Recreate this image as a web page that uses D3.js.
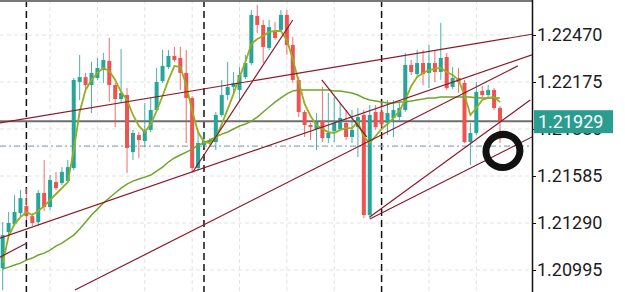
<!DOCTYPE html>
<meta charset="utf-8">
<head>
<style>
body { margin:0; background:#fff; overflow:hidden; }
text { font-family: Roboto, "Noto Sans", sans-serif; }
</style>
</head>
<script src="https://cdn.jsdelivr.net/npm/d3@7"></script>
<body>
<script>

// candles, left to right
var opens = [
1.21007,1.21233,1.21283,1.21352,1.21396,1.21333,1.21296,1.21478,1.21390,1.21547,
1.21541,1.21553,1.21635,1.22175,1.22206,1.22156,1.22200,1.22250,1.22307,1.22156,
1.22068,1.22093,1.21735,1.21842,1.21805,1.21874,1.21999,1.22181,1.22269,1.22338,
1.22326,1.22232,1.22075,1.21635,1.21779,1.21798,1.21798,1.21968,1.22093,1.22144,
1.22125,1.22206,1.22294,1.22590,1.22533,1.22389,1.22489,1.22502,1.22596,1.22407,
1.22188,1.21987,1.21905,1.21880,1.21930,1.21823,1.21867,1.21880,1.21918,1.21830,
1.21892,1.21968,1.21340,1.21987,1.21987,1.21918,1.21949,1.21955,1.21999,1.22282,
1.22225,1.22294,1.22232,1.22294,1.22238,1.22332,1.22144,1.22200,1.22169,1.21798,
1.21855,1.22119,1.22093,1.22125,1.22012];
var highs = [
1.21296,1.21359,1.21465,1.21497,1.21509,1.21352,1.21497,1.21685,1.21591,1.21610,
1.21641,1.21685,1.22200,1.22345,1.22232,1.22301,1.22326,1.22357,1.22451,1.22169,
1.22382,1.22137,1.21874,1.21861,1.22043,1.22075,1.22263,1.22376,1.22376,1.22395,
1.22395,1.22376,1.22087,1.21874,1.21861,1.21823,1.21987,1.22188,1.22301,1.22238,
1.22269,1.22345,1.22627,1.22659,1.22564,1.22564,1.22552,1.22627,1.22627,1.22458,
1.22206,1.21999,1.21918,1.21980,1.22144,1.22106,1.22081,1.22043,1.21999,1.21999,
1.22012,1.21999,1.22031,1.22031,1.22050,1.22062,1.22062,1.22050,1.22357,1.22313,
1.22376,1.22376,1.22407,1.22376,1.22546,1.22357,1.22269,1.22263,1.22188,1.21918,
1.22175,1.22150,1.22156,1.22137,1.22024];
var lows = [
1.20869,1.21208,1.21271,1.21333,1.21308,1.21271,1.21271,1.21364,1.21371,1.21497,
1.21528,1.21541,1.21622,1.22062,1.22125,1.21980,1.22188,1.22169,1.22050,1.21892,
1.22043,1.21604,1.21685,1.21698,1.21767,1.21861,1.21987,1.22169,1.22257,1.22301,
1.22125,1.21792,1.21604,1.21622,1.21761,1.21773,1.21748,1.21955,1.22062,1.22106,
1.22050,1.22194,1.22282,1.22483,1.22294,1.22376,1.22439,1.22489,1.22345,1.22169,
1.21955,1.21830,1.21811,1.21748,1.21798,1.21792,1.21798,1.21867,1.21811,1.21792,
1.21704,1.21321,1.21321,1.21874,1.21892,1.21842,1.21830,1.21936,1.21987,1.22219,
1.22200,1.22156,1.22137,1.22175,1.22188,1.22125,1.22131,1.22106,1.21792,1.21654,
1.21842,1.22081,1.22081,1.21999,1.21792];
var closes = [
1.21214,1.21290,1.21359,1.21446,1.21333,1.21290,1.21478,1.21390,1.21560,1.21509,
1.21610,1.21641,1.22188,1.22206,1.22156,1.22232,1.22263,1.22313,1.22156,1.22068,
1.22106,1.21761,1.21855,1.21811,1.21874,1.21999,1.22175,1.22276,1.22338,1.22313,
1.22232,1.22075,1.21635,1.21792,1.21805,1.21811,1.21968,1.22093,1.22144,1.22169,
1.22219,1.22294,1.22596,1.22533,1.22395,1.22520,1.22451,1.22596,1.22407,1.22188,
1.21987,1.21905,1.21892,1.21924,1.21823,1.21855,1.21918,1.21949,1.21830,1.21874,
1.21955,1.21340,1.21968,1.21892,1.21911,1.21980,1.21999,1.22012,1.22282,1.22238,
1.22294,1.22225,1.22294,1.22238,1.22326,1.22137,1.22200,1.22175,1.21798,1.21855,
1.22112,1.22093,1.22125,1.22012,1.21929];

// moving averages
var maFast = [
1.21038,1.21208,1.21283,1.21327,1.21359,1.21340,1.21365,1.21396,1.21434,1.21472,
1.21509,1.21547,1.21748,1.21987,1.22125,1.22188,1.22232,1.22263,1.22244,1.22188,
1.22112,1.22062,1.21968,1.21899,1.21861,1.21911,1.21993,1.22087,1.22188,1.22276,
1.22269,1.22156,1.21993,1.21861,1.21798,1.21792,1.21823,1.21911,1.22005,1.22100,
1.22206,1.22301,1.22414,1.22445,1.22464,1.22489,1.22495,1.22495,1.22439,1.22319,
1.22175,1.22037,1.21962,1.21905,1.21880,1.21861,1.21855,1.21874,1.21886,1.21886,
1.21924,1.21830,1.21792,1.21836,1.21880,1.21911,1.21949,1.21993,1.22062,1.22150,
1.22206,1.22232,1.22250,1.22257,1.22263,1.22238,1.22219,1.22188,1.22093,1.21968,
1.22012,1.22062,1.22075,1.22081,1.22049];
var maSlow = [
1.21001,1.21013,1.21026,1.21038,1.21057,1.21070,1.21089,1.21101,1.21120,1.21145,
1.21164,1.21189,1.21214,1.21252,1.21296,1.21340,1.21377,1.21415,1.21447,1.21478,
1.21509,1.21534,1.21553,1.21566,1.21578,1.21591,1.21616,1.21641,1.21673,1.21698,
1.21717,1.21735,1.21754,1.21779,1.21792,1.21811,1.21830,1.21848,1.21861,1.21880,
1.21899,1.21911,1.21930,1.21955,1.21987,1.22018,1.22049,1.22075,1.22100,1.22119,
1.22125,1.22125,1.22125,1.22125,1.22125,1.22125,1.22119,1.22119,1.22112,1.22106,
1.22093,1.22075,1.22062,1.22056,1.22049,1.22043,1.22043,1.22049,1.22049,1.22056,
1.22062,1.22068,1.22075,1.22075,1.22081,1.22081,1.22081,1.22081,1.22081,1.22081,
1.22075,1.22075,1.22075,1.22075,1.22075];

// drawn trend lines: [candle1, price1, candle2, price2]
var trendLines = [
  [-0.46, 1.21918, 89.6, 1.22476],
  [-0.46, 1.21195, 89.4, 1.22345],
  [12.2, 1.20869, 87.0, 1.22276],
  [-0.46, 1.21076, 4.1, 1.21164],
  [32.1, 1.21610, 49.0, 1.22564],
  [53.9, 1.22188, 61.5, 1.21830],
  [62.0, 1.21327, 89.1, 1.22062],
  [62.0, 1.21315, 89.4, 1.21830]
];

var priceTicks = [1.22470, 1.22175, 1.21880, 1.21585, 1.21290, 1.20995];
var gridCandles = [8, 16, 24, 32, 40, 48, 56, 64, 72, 80];
var dayBreaks = [4, 34, 64];
var lastPrice = 1.21929;
var dashLevel = 1.21773;
var markCandle = 84.5, markPrice = 1.21742;

var width = 625, height = 292;
var plotW = 532;
var up = "#26a69a", down = "#ef5350";

var svg = d3.select("body").append("svg")
    .attr("width", width)
    .attr("height", height);

var x = d3.scaleLinear().domain([0, closes.length - 1]).range([2.7, 500]);
var y = d3.scaleLinear().domain([1.20995, 1.22470]).range([270, 35]);

svg.append("clipPath").attr("id", "clip")
  .append("rect").attr("x", 0).attr("y", 0).attr("width", plotW).attr("height", height);

var plot = svg.append("g").attr("clip-path", "url(#clip)");

// grid
plot.selectAll(".hg").data(priceTicks).enter().append("line")
    .attr("x1", 0).attr("x2", plotW)
    .attr("y1", function(d){ return y(d); }).attr("y2", function(d){ return y(d); })
    .style("stroke", "#e2e2e2").style("stroke-dasharray", "4,3");
plot.selectAll(".vg").data(gridCandles).enter().append("line")
    .attr("x1", function(d){ return x(d); }).attr("x2", function(d){ return x(d); })
    .attr("y1", 0).attr("y2", height)
    .style("stroke", "#e2e2e2").style("stroke-dasharray", "4,3");

// day separators
plot.selectAll(".sep").data(dayBreaks).enter().append("line")
    .attr("x1", function(d){ return x(d); }).attr("x2", function(d){ return x(d); })
    .attr("y1", 0).attr("y2", height)
    .style("stroke", "#111").style("stroke-width", 1.5).style("stroke-dasharray", "7,4");

// dash-dot level
plot.append("line")
    .attr("x1", 0).attr("x2", plotW)
    .attr("y1", y(dashLevel)).attr("y2", y(dashLevel))
    .style("stroke", "#93aab3").style("stroke-width", 1.3).style("stroke-dasharray", "6,3,2,3");

// last price line
plot.append("line")
    .attr("x1", 0).attr("x2", plotW)
    .attr("y1", y(lastPrice)).attr("y2", y(lastPrice))
    .style("stroke", "#6e6e6e").style("stroke-width", 2);

// candles
var idx = d3.range(closes.length);
function col(i) { return closes[i] >= opens[i] ? up : down; }

plot.selectAll(".wick").data(idx).enter().append("line")
    .attr("x1", function(i){ return x(i); }).attr("x2", function(i){ return x(i); })
    .attr("y1", function(i){ return y(highs[i]); }).attr("y2", function(i){ return y(lows[i]); })
    .style("stroke", col).style("stroke-width", 1).style("stroke-opacity", 0.85);

plot.selectAll(".body").data(idx).enter().append("rect")
    .attr("x", function(i){ return x(i) - 2; })
    .attr("width", 4)
    .attr("y", function(i){ return y(Math.max(opens[i], closes[i])); })
    .attr("height", function(i){ return Math.max(1.5, Math.abs(y(opens[i]) - y(closes[i]))); })
    .style("fill", col);

// moving averages
var line = d3.line().x(function(d, i){ return x(i); }).y(function(d){ return y(d); });
plot.append("path").datum(maSlow).attr("d", line)
    .style("fill", "none").style("stroke", "#6fa52c").style("stroke-width", 1.5);
plot.append("path").datum(maFast).attr("d", line)
    .style("fill", "none").style("stroke", "#98ad1f").style("stroke-width", 1.8);

// trend lines
plot.selectAll(".trend").data(trendLines).enter().append("line")
    .attr("x1", function(d){ return x(d[0]); }).attr("y1", function(d){ return y(d[1]); })
    .attr("x2", function(d){ return x(d[2]); }).attr("y2", function(d){ return y(d[3]); })
    .style("stroke", "#8a1a2a").style("stroke-width", 1.2);

// hand drawn circle
svg.append("ellipse")
    .attr("cx", x(markCandle)).attr("cy", y(markPrice))
    .attr("rx", 17).attr("ry", 16.5)
    .attr("transform", "rotate(-20," + x(markCandle) + "," + y(markPrice) + ")")
    .style("fill", "none").style("stroke", "#111").style("stroke-width", 7);

// frame
svg.append("line").attr("x1", 0).attr("x2", plotW).attr("y1", 1).attr("y2", 1)
    .style("stroke", "#777").style("stroke-width", 2);
svg.append("line").attr("x1", plotW + 0.5).attr("x2", plotW + 0.5).attr("y1", 0).attr("y2", height)
    .style("stroke", "#111").style("stroke-width", 1.5);

// price axis
var axis = svg.append("g")
    .attr("transform", "translate(" + plotW + ",0)")
    .call(d3.axisRight(y).tickValues(priceTicks).tickSize(4).tickPadding(1)
      .tickFormat(d3.format(".5f")));
axis.select(".domain").remove();
axis.selectAll("line").style("stroke", "#111");
axis.selectAll("text").style("font-size", "18px").style("fill", "#1c1c1c")
    .style("font-family", "Roboto, sans-serif");

// last price badge
var by = y(lastPrice);
svg.append("rect").attr("x", 534).attr("y", by - 11).attr("width", 79).attr("height", 23)
    .style("fill", "#2a9d90");
svg.append("text").attr("x", 538).attr("y", by + 0.5)
    .attr("dy", "0.35em")
    .style("font-size", "18px").style("fill", "#fff")
    .text(d3.format(".5f")(lastPrice));

</script>
